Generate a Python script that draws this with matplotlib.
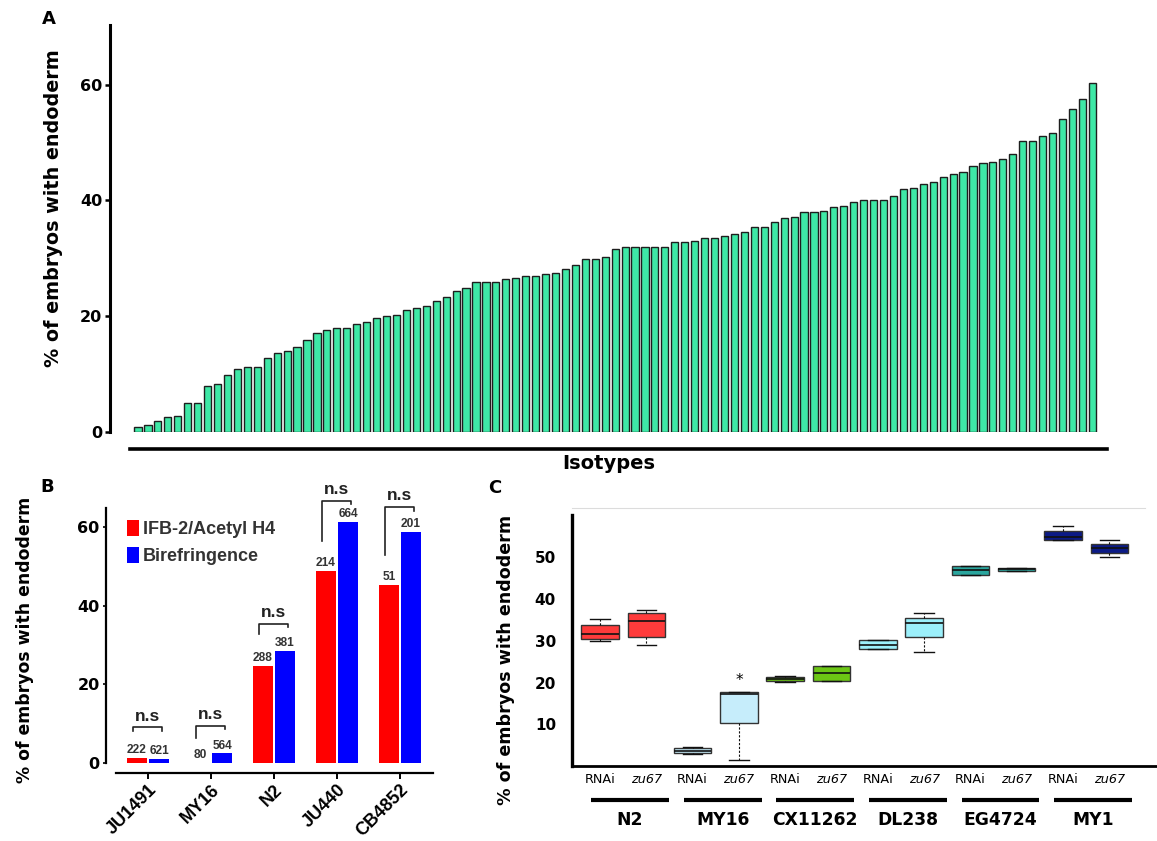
import numpy as np
import matplotlib
matplotlib.use("Agg")
import matplotlib.pyplot as plt
from matplotlib.transforms import blended_transform_factory

# ---- panel A: % endoderm per isotype (sorted) ----
isotype_pct = [0.8, 1.2, 1.9, 2.5, 2.7, 4.9, 4.9, 7.9, 8.3, 9.7,
               10.9, 11.2, 11.2, 12.8, 13.6, 14.0, 14.7, 15.8, 17.0, 17.6,
               17.9, 17.9, 18.6, 18.9, 19.6, 19.9, 20.2, 21.0, 21.3, 21.7,
               22.6, 23.3, 24.3, 24.9, 25.8, 25.9, 25.9, 26.4, 26.6,
               26.9, 26.9, 27.2, 27.4, 28.1, 28.8, 29.9, 29.9, 30.2, 31.5,
               31.9, 31.9, 31.9, 31.9, 31.9, 32.8, 32.8, 33.0, 33.4,
               33.4, 33.9, 34.1, 34.6, 35.4, 35.4, 36.3, 37.0, 37.1, 37.9,
               37.9, 38.2, 38.8, 39.1, 39.7, 40.1, 40.1, 40.1, 40.7,
               41.9, 42.1, 42.9, 43.1, 44.1, 44.6, 44.9, 46.0, 46.4, 46.6,
               47.1, 48.1, 50.2, 50.2, 51.1, 51.6, 54.1, 55.8, 57.6, 60.3]

# ---- panel B ----
strains_b = ["JU1491", "MY16", "N2", "JU440", "CB4852"]
ifb_pct = [1.3, 0.0, 24.7, 48.9, 45.3]
biref_pct = [1.0, 2.4, 28.5, 61.4, 58.9]
n_ifb = [222, 80, 288, 214, 51]
n_biref = [621, 564, 381, 664, 201]
br_top = [9.1, 9.4, 35.4, 66.8, 65.2]
br_left = [8.1, 6.3, 32.8, 56.6, 52.9]
br_right = [8.1, 8.6, 34.6, 65.9, 64.2]

# ---- panel C: boxplots, RNAi / zu67 per strain ----
strains_c = ["N2", "MY16", "CX11262", "DL238", "EG4724", "MY1"]
conds = ["RNAi", "zu67"]
whislo = [29.9, 28.9, 2.9, 1.4, 20.1, 20.5, 28.1, 27.4, 45.8, 46.8, 54.2, 50.0]
q1 = [30.4, 31.0, 3.2, 10.4, 20.5, 20.5, 28.1, 30.9, 45.8, 46.8, 54.2, 51.1]
med = [31.7, 34.7, 3.7, 17.3, 20.9, 22.3, 29.1, 34.2, 46.9, 47.2, 54.8, 52.2]
q3 = [33.7, 36.8, 4.2, 17.8, 21.3, 23.9, 30.1, 35.6, 47.9, 47.6, 56.4, 53.2]
whishi = [35.2, 37.3, 4.6, 17.8, 21.5, 24.0, 30.1, 36.8, 47.9, 47.6, 57.5, 54.3]
box_colors = ['#ff3b3b', '#c6edfb', '#6cc614', '#9cf0fb', '#2aa69e', '#0b1a86']

W, H = 1157, 841
fig = plt.figure(figsize=(W / 100, H / 100), dpi=100)


def px_axes(left, right, top, bottom):
    return fig.add_axes([left / W, 1 - bottom / H, (right - left) / W, (bottom - top) / H])


BOLD = dict(fontweight='bold', family='DejaVu Sans')
ARIAL = dict(fontweight='bold', family='Liberation Sans')

# ================= A =================
axA = px_axes(110, 1107, 25.2, 431.5)
xa = np.arange(len(isotype_pct))
axA.bar(xa, isotype_pct, width=0.72, color='#3ee8a6', edgecolor='#1e1e1e', linewidth=1.0)
axA.set_xlim(-2.82, 97.48)
axA.set_ylim(0, 70.3)
for s in ['top', 'right']:
    axA.spines[s].set_visible(False)
axA.spines['left'].set_linewidth(2.2)
axA.spines['bottom'].set_position(('outward', 12.6))
axA.spines['bottom'].set_bounds(-0.8, 97.48)
axA.spines['bottom'].set_linewidth(2.6)
axA.set_xticks([])
axA.set_yticks([0, 20, 40, 60])
axA.tick_params(axis='y', length=3.6, width=1.8, pad=2, labelsize=11.5)
for t in axA.get_yticklabels():
    t.set_fontweight('bold')
axA.text(0.5, -0.078, "Isotypes", transform=axA.transAxes, ha='center', va='center',
         fontsize=14, **BOLD)
fig.text(54 / W, 1 - 208.5 / H, "% of embryos with endoderm", rotation=90,
         ha='center', va='center', fontsize=13.8, **BOLD)
fig.text(49 / W, 1 - 19 / H, "A", ha='center', va='center', fontsize=13, **BOLD)

# ================= B =================
axB = px_axes(106, 433, 480.2, 762.8)
xb = np.arange(len(strains_b))
bw = 0.32
off = 0.175
bars_r = axB.bar(xb - off, ifb_pct, width=bw, color='#ff0000', label="IFB-2/Acetyl H4")
bars_b = axB.bar(xb + off, biref_pct, width=bw, color='#0000ff', label="Birefringence")
for i in range(len(strains_b)):
    axB.text(xb[i] - off, ifb_pct[i] + 0.4, str(n_ifb[i]), ha='center', va='bottom',
             fontsize=8.6, color='#333333', **ARIAL)
    axB.text(xb[i] + off, biref_pct[i] + 0.4, str(n_biref[i]), ha='center', va='bottom',
             fontsize=8.6, color='#333333', **ARIAL)
    l, r = xb[i] - 0.24, xb[i] + 0.22
    axB.plot([l, l, r, r], [br_left[i], br_top[i], br_top[i], br_right[i]],
             color='#222222', lw=1.2, clip_on=False)
    axB.text((l + r) / 2, br_top[i] + 0.9, "n.s", ha='center', va='bottom',
             fontsize=12.5, color='#222222', **ARIAL)
axB.set_xlim(-0.667, 4.524)
axB.set_ylim(0, 72)
for s in ['top', 'right']:
    axB.spines[s].set_visible(False)
axB.spines['left'].set_bounds(0, 64.9)
axB.spines['left'].set_linewidth(1.6)
axB.spines['bottom'].set_position(('outward', 7.2))
axB.spines['bottom'].set_bounds(-0.508, 4.524)
axB.spines['bottom'].set_linewidth(1.6)
axB.set_yticks([0, 20, 40, 60])
axB.tick_params(axis='y', length=2.5, width=1.2, pad=2, labelsize=11.5)
for t in axB.get_yticklabels():
    t.set_fontweight('bold')
axB.set_xticks(xb)
axB.set_xticklabels(strains_b, rotation=45, ha='right', va='top', rotation_mode='anchor',
                    fontsize=13, **ARIAL)
axB.tick_params(axis='x', length=4, width=1.4, pad=2)
axB.legend(handles=[bars_r, bars_b], loc='upper left', bbox_to_anchor=(0.063, 0.86),
           frameon=False, handlelength=0.67, handleheight=1.0, handletextpad=0.25,
           labelspacing=0.5, borderpad=0, borderaxespad=0,
           prop=dict(family='Liberation Sans', weight='bold', size=13), labelcolor='#333333')
fig.text(25 / W, 1 - 640 / H, "% of embryos with endoderm", rotation=90,
         ha='center', va='center', fontsize=12.4, **BOLD)
fig.text(47 / W, 1 - 487 / H, "B", ha='center', va='center', fontsize=13, **BOLD)

# ================= C =================
axC = px_axes(572, 1157, 508, 766)
pos = np.arange(len(med))
stats = []
for i in range(len(med)):
    stats.append(dict(med=med[i], q1=q1[i], q3=q3[i], whislo=whislo[i], whishi=whishi[i],
                      fliers=[]))
bp = axC.bxp(stats, positions=pos, widths=0.81, capwidths=0.42, patch_artist=True,
             showfliers=False,
             boxprops=dict(edgecolor='#333333', linewidth=1.0),
             medianprops=dict(color='#111111', linewidth=1.2),
             whiskerprops=dict(color='#111111', linewidth=0.8, linestyle=(0, (2, 1.5))),
             capprops=dict(color='#111111', linewidth=1.0))
for i, patch in enumerate(bp['boxes']):
    patch.set_facecolor(box_colors[i // 2])
axC.text(pos[3], 18.6, "*", ha='center', va='bottom', fontsize=11, family='DejaVu Sans')
axC.set_xlim(-0.605, 12.03)
axC.set_ylim(0, 61.87)
axC.spines['right'].set_visible(False)
axC.spines['top'].set_color('#dcdcdc')
axC.spines['top'].set_linewidth(0.8)
axC.spines['top'].set_bounds(-0.605, 11.77)
axC.spines['left'].set_bounds(0, 60.2)
axC.spines['left'].set_linewidth(2.4)
axC.spines['bottom'].set_linewidth(2.0)
axC.set_xticks([])
axC.set_yticks([10, 20, 30, 40, 50])
axC.tick_params(axis='y', length=0, pad=11.5, labelsize=11)
for t in axC.get_yticklabels():
    t.set_fontweight('bold')
trC = blended_transform_factory(axC.transData, axC.transAxes)
for i in range(len(med)):
    cond = conds[i % 2]
    axC.text(pos[i], -0.054, cond, transform=trC, ha='center', va='center', fontsize=9.2,
             family='DejaVu Sans', style='italic' if cond == 'zu67' else 'normal')
for g, name in enumerate(strains_c):
    cx = (pos[2 * g] + pos[2 * g + 1]) / 2 + 0.15
    axC.plot([cx - 0.84, cx + 0.84], [-0.133, -0.133], transform=trC, color='black',
             lw=3.0, solid_capstyle='butt', clip_on=False)
    axC.text(cx, -0.209, name, transform=trC, ha='center', va='center', fontsize=12.3, **BOLD)
fig.text(506 / W, 1 - 660 / H, "% of embryos with endoderm", rotation=90,
         ha='center', va='center', fontsize=12.6, **BOLD)
fig.text(495 / W, 1 - 488 / H, "C", ha='center', va='center', fontsize=13, **BOLD)

fig.savefig("out.png", dpi=100)
